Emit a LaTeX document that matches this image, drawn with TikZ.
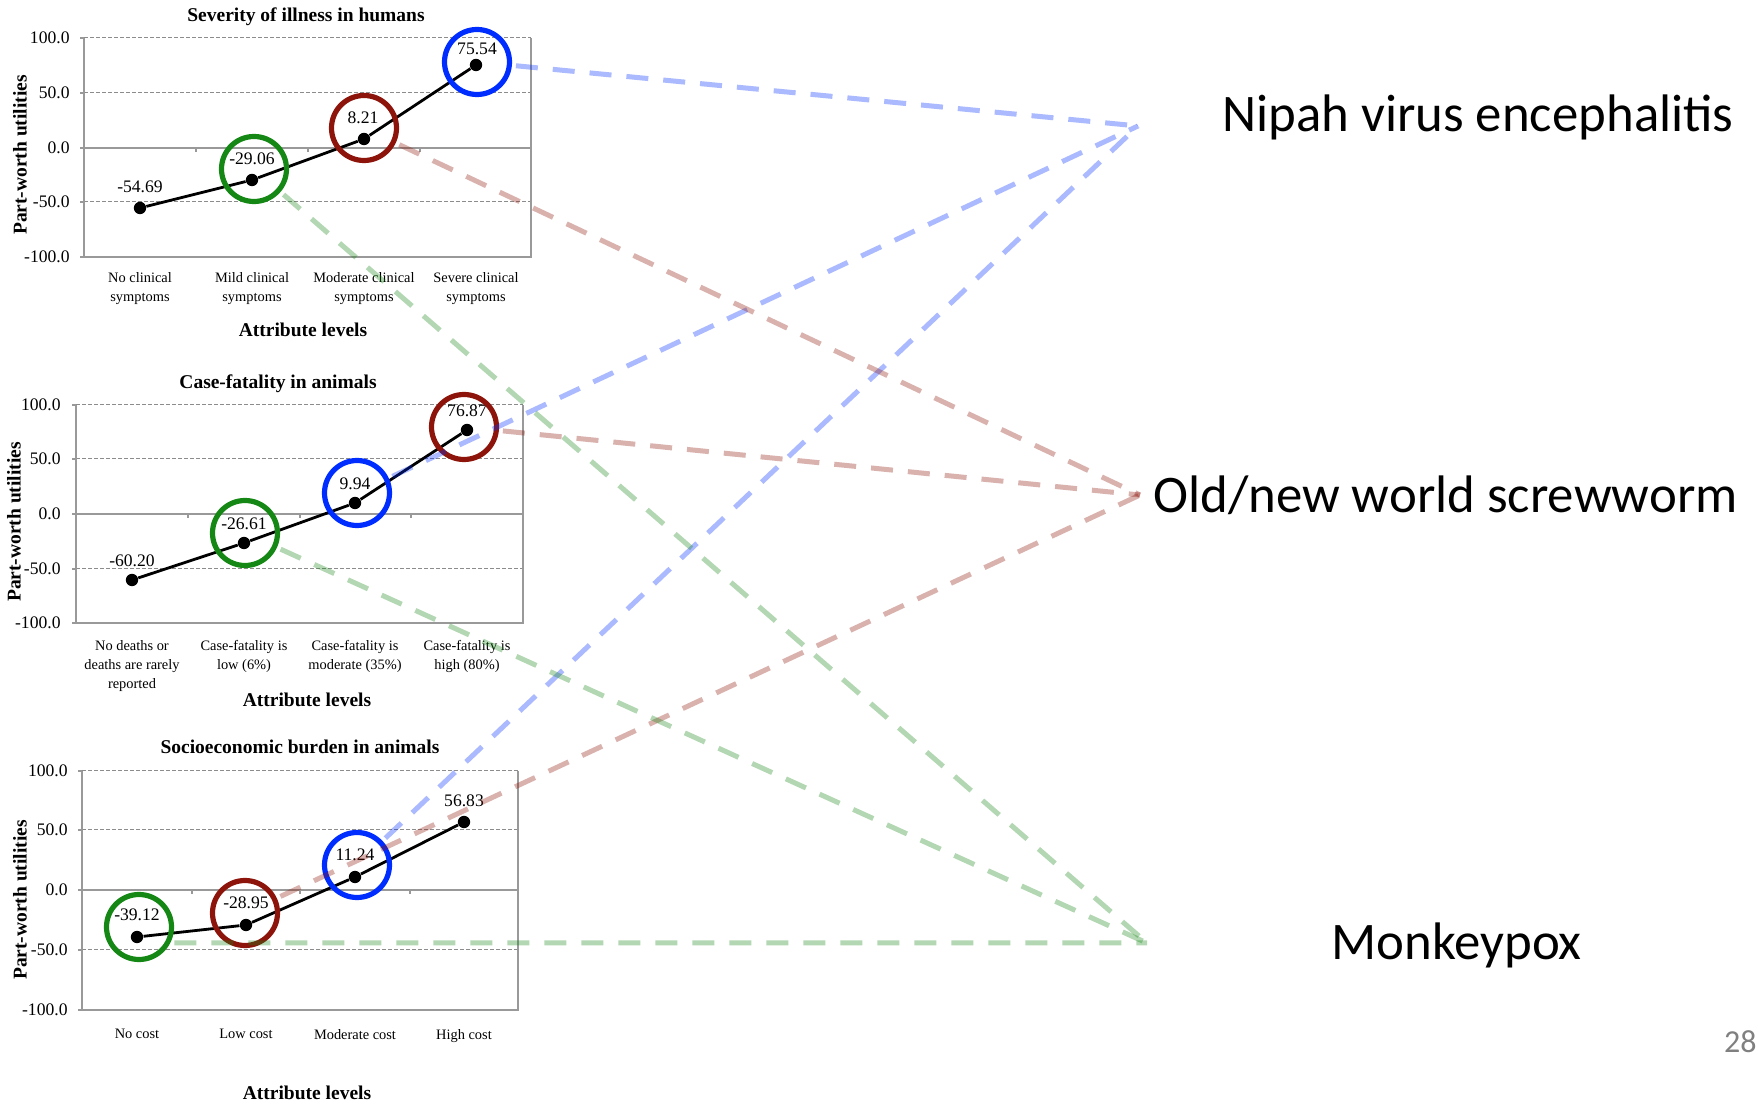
\documentclass[tikz,border=0pt]{standalone}
\usepackage{fontspec}
\setmainfont{Liberation Serif}
\newfontfamily\calibri{Carlito}
\usepackage{tikz}

\definecolor{ringblue}{RGB}{0,45,255}
\definecolor{ringred}{RGB}{140,20,10}
\definecolor{ringgreen}{RGB}{20,135,20}
\definecolor{pagegray}{RGB}{128,128,128}

\begin{document}
\begin{tikzpicture}[x=0.5pt, y=-0.5pt, every node/.append style={inner sep=0pt},
        ticklab/.style={anchor=east, font=\fontsize{8.8}{10}\selectfont},
        vallab/.style={font=\fontsize{8.8}{10}\selectfont},
        catlab/.style={anchor=north, align=center, font=\fontsize{7.2}{9.5}\selectfont},
        boldlab/.style={font=\fontsize{9.75}{11}\selectfont\bfseries},
        datapt/.style={circle, fill=black, minimum size=6.2pt},
        hilite/.style={circle, draw, line width=2.6pt, minimum size=32.5pt},
        gridline/.style={black!45, line width=0.5pt, dash pattern=on 2pt off 1pt},
        axisline/.style={black!40, line width=0.7pt},
        dataline/.style={black, line width=1.4pt},
        tolink/.style={line width=2.5pt, opacity=0.33, dash pattern=on 11pt off 7.5pt, shorten <=2pt},
        disease/.style={font=\calibri\fontsize{26.4}{30}\selectfont, anchor=base west}]
        \useasboundingbox (0,0) rectangle (1758,1106);

        % severity of illness in humans
        \draw [gridline] (84,38) -- (531,38);
        \draw [gridline] (84,93) -- (531,93);
        \draw [gridline] (84,202) -- (531,202);
        \draw [axisline] (80,148) -- (531,148);
        \draw [axisline] (84,38) -- (84,257) -- (531,257) -- (531,38);
        \draw [axisline] (80,38) -- (84,38) (80,93) -- (84,93) (80,202) -- (84,202) (80,257) -- (84,257);
        \draw [axisline] (196,148) -- (196,152) (308,148) -- (308,152) (420,148) -- (420,152);
        \node [boldlab] (T1) at (306,17) {Severity of illness in humans};
        \node [boldlab, rotate=90] (Y1) at (20,155) {Part-worth utilities};
        \node [boldlab] (X1) at (303,330) {Attribute levels};
        \node [ticklab] (t1a) at (70,38) {100.0};
        \node [ticklab] (t1b) at (70,93) {50.0};
        \node [ticklab] (t1c) at (70,148) {0.0};
        \node [ticklab] (t1d) at (70,202) {-50.0};
        \node [ticklab] (t1e) at (70,257) {-100.0};
        \node [catlab] (c1a) at (140,272) {No clinical\\symptoms};
        \node [catlab] (c1b) at (252,272) {Mild clinical\\symptoms};
        \node [catlab] (c1c) at (364,272) {Moderate clinical\\symptoms};
        \node [catlab] (c1d) at (476,272) {Severe clinical\\symptoms};
        \node [datapt] (p1a) at (140,208) {};
        \node [datapt] (p1b) at (252,180) {};
        \node [datapt] (p1c) at (364,139) {};
        \node [datapt] (p1d) at (476,65) {};
        \draw [dataline] (p1a) -- (p1b) -- (p1c) -- (p1d);
        \node [vallab] (v1a) at (140,187) {-54.69};
        \node [vallab] (v1b) at (252,159) {-29.06};
        \node [vallab] (v1c) at (363,118) {8.21};
        \node [vallab] (v1d) at (477,49) {75.54};
        \node [hilite, draw=ringgreen] (G1) at (254,169) {};
        \node [hilite, draw=ringred] (R1) at (364,128) {};
        \node [hilite, draw=ringblue] (B1) at (477,62) {};

        % case-fatality in animals
        \draw [gridline] (76,405) -- (523,405);
        \draw [gridline] (76,459) -- (523,459);
        \draw [gridline] (76,569) -- (523,569);
        \draw [axisline] (72,514) -- (523,514);
        \draw [axisline] (76,405) -- (76,623) -- (523,623) -- (523,405);
        \draw [axisline] (72,405) -- (76,405) (72,459) -- (76,459) (72,569) -- (76,569) (72,623) -- (76,623);
        \draw [axisline] (188,514) -- (188,518) (300,514) -- (300,518) (411,514) -- (411,518);
        \node [boldlab] (T2) at (278,384) {Case-fatality in animals};
        \node [boldlab, rotate=90] (Y2) at (14,522) {Part-worth utilities};
        \node [boldlab] (X2) at (307,700) {Attribute levels};
        \node [ticklab] (t2a) at (61,405) {100.0};
        \node [ticklab] (t2b) at (61,459) {50.0};
        \node [ticklab] (t2c) at (61,514) {0.0};
        \node [ticklab] (t2d) at (61,569) {-50.0};
        \node [ticklab] (t2e) at (61,623) {-100.0};
        \node [catlab] (c2a) at (132,640) {No deaths or\\deaths are rarely\\reported};
        \node [catlab] (c2b) at (244,640) {Case-fatality is\\low (6\%)};
        \node [catlab] (c2c) at (355,640) {Case-fatality is\\moderate (35\%)};
        \node [catlab] (c2d) at (467,640) {Case-fatality is\\high (80\%)};
        \node [datapt] (p2a) at (132,580) {};
        \node [datapt] (p2b) at (244,543) {};
        \node [datapt] (p2c) at (355,503) {};
        \node [datapt] (p2d) at (467,430) {};
        \draw [dataline] (p2a) -- (p2b) -- (p2c) -- (p2d);
        \node [vallab] (v2a) at (132,561) {-60.20};
        \node [vallab] (v2b) at (244,524) {-26.61};
        \node [vallab] (v2c) at (355,484) {9.94};
        \node [vallab] (v2d) at (467,411) {76.87};
        \node [hilite, draw=ringgreen] (G2) at (245,533) {};
        \node [hilite, draw=ringblue] (B2) at (357,493) {};
        \node [hilite, draw=ringred] (R2) at (464,427) {};

        % socioeconomic burden in animals
        \draw [gridline] (82,771) -- (518,771);
        \draw [gridline] (82,830) -- (518,830);
        \draw [gridline] (82,950) -- (518,950);
        \draw [axisline] (78,890) -- (518,890);
        \draw [axisline] (82,771) -- (82,1010) -- (518,1010) -- (518,771);
        \draw [axisline] (78,771) -- (82,771) (78,830) -- (82,830) (78,950) -- (82,950) (78,1010) -- (82,1010);
        \draw [axisline] (192,890) -- (192,894) (300,890) -- (300,894) (410,890) -- (410,894);
        \node [boldlab] (T3) at (300,747) {Socioeconomic burden in animals};
        \node [boldlab, rotate=90] (Y3) at (20,900) {Part-worth utilities};
        \node [boldlab] (X3) at (307,1093) {Attribute levels};
        \node [ticklab] (t3a) at (68,771) {100.0};
        \node [ticklab] (t3b) at (68,830) {50.0};
        \node [ticklab] (t3c) at (68,890) {0.0};
        \node [ticklab] (t3d) at (68,950) {-50.0};
        \node [ticklab] (t3e) at (68,1010) {-100.0};
        \node [catlab] (c3a) at (137,1029) {No cost};
        \node [catlab] (c3b) at (246,1029) {Low cost};
        \node [catlab] (c3c) at (355,1029) {Moderate cost};
        \node [catlab] (c3d) at (464,1029) {High cost};
        \node [datapt] (p3a) at (137,937) {};
        \node [datapt] (p3b) at (246,925) {};
        \node [datapt] (p3c) at (355,877) {};
        \node [datapt] (p3d) at (464,822) {};
        \draw [dataline] (p3a) -- (p3b) -- (p3c) -- (p3d);
        \node [vallab] (v3a) at (137,915) {-39.12};
        \node [vallab] (v3b) at (246,903) {-28.95};
        \node [vallab] (v3c) at (355,855) {11.24};
        \node [vallab] (v3d) at (464,801) {56.83};
        \node [hilite, draw=ringgreen] (G3) at (139,927) {};
        \node [hilite, draw=ringred] (R3) at (245,913) {};
        \node [hilite, draw=ringblue] (B3) at (357,865) {};

        % diseases
        \node [disease] (nipah) at (1222,132) {Nipah virus encephalitis};
        \node [disease] (screw) at (1153,513) {Old/new world screwworm};
        \node [disease] (mpox) at (1331,959) {Monkeypox};
        \node [font=\calibri\fontsize{16}{18}\selectfont, text=pagegray, anchor=base east] (page) at (1757,1052) {28};
        \coordinate (toN) at (1138,126);
        \coordinate (toS) at (1140,495);
        \coordinate (toM) at (1147,943);

        \draw [tolink, ringblue] (B1) -- (toN);
        \draw [tolink, ringblue] (B2) -- (toN);
        \draw [tolink, ringblue] (B3) -- (toN);
        \draw [tolink, ringred] (R1) -- (toS);
        \draw [tolink, ringred] (R2) -- (toS);
        \draw [tolink, ringred] (R3) -- (toS);
        \draw [tolink, ringgreen] (G1) -- (toM);
        \draw [tolink, ringgreen] (G2) -- (toM);
        \draw [tolink, ringgreen] (G3.-27) -- (toM);
    \end{tikzpicture}
\end{document}
